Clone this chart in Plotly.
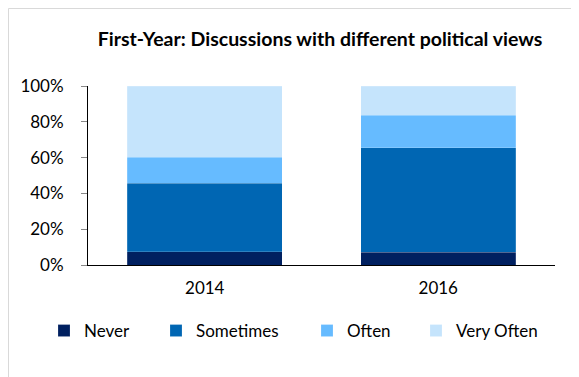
import plotly.graph_objects as go

years = ['2014', '2016']
never = [7.4, 7.1]
sometimes = [38.2, 58.3]
often = [14.7, 18.4]
very_often = [39.7, 16.2]

series = [
    ('Never', never, '#002060'),
    ('Sometimes', sometimes, '#0066B3'),
    ('Often', often, '#66BBFF'),
    ('Very Often', very_often, '#C5E4FC'),
]

# the page body adds an 8px margin, so the figure is laid out in page pixels minus 8
OFF = 8
W, H = 579 - OFF, 377 - OFF
L, T = 88 - OFF, 86 - OFF
R = W - (555 - OFF)
B = H - (265 - OFF)

font = dict(family='Lato, Liberation Sans, Arial', size=17, color='#000000')

fig = go.Figure()
legend_x = [64, 176, 327, 436]
for i, (name, vals, col) in enumerate(series):
    lg = 'legend' if i == 0 else f'legend{i + 1}'
    fig.add_trace(go.Bar(
        x=years, y=vals, name=name,
        marker=dict(color=col, line=dict(color='rgba(255,255,255,0.35)', width=0.5)),
        legend=lg,
    ))

# one legend per entry so the uneven spacing of the original can be kept
layout_legends = {}
for i, lx in enumerate(legend_x):
    key = 'legend' if i == 0 else f'legend{i + 1}'
    layout_legends[key] = dict(
        xref='container', yref='container',
        x=(lx - 20 - OFF) / W, y=1 - (331 - OFF) / H, xanchor='left', yanchor='middle',
        orientation='h', font=font, bgcolor='rgba(0,0,0,0)',
        itemwidth=30, tracegroupgap=0,
    )

fig.update_layout(
    width=W, height=H,
    barmode='stack', bargap=0.336,
    plot_bgcolor='#ffffff', paper_bgcolor='#ffffff',
    margin=dict(l=L, r=R, t=T, b=B),
    font=font,
    title=dict(text='<b>First-Year: Discussions with different political views</b>',
               x=(320 - OFF) / W, xanchor='center', y=1 - (39 - OFF) / H, yanchor='middle',
               font=dict(family='Lato, Liberation Sans, Arial', size=19.5, color='#000000')),
    showlegend=True,
    **layout_legends,
)

fig.update_yaxes(
    range=[0, 100], dtick=20, ticksuffix='%', showgrid=False, zeroline=False,
    showline=True, linecolor='#000000', linewidth=1,
    ticks='outside', ticklen=6, tickcolor='#888888',
    ticklabelstandoff=14, tickfont=font,
)
fig.update_xaxes(
    showline=True, linecolor='#000000', linewidth=1, showgrid=False,
    ticks='', ticklabelstandoff=8, tickfont=font,
)

# light chart-area border (top and left edges visible)
pw, ph = W - L - R, H - T - B
fig.add_shape(type='line', xref='paper', yref='paper',
              x0=(0.5 - L) / pw, x1=(W - L) / pw,
              y0=(H - B - 0.5) / ph, y1=(H - B - 0.5) / ph,
              line=dict(color='#D9D9D9', width=1))
fig.add_shape(type='line', xref='paper', yref='paper',
              x0=(0.5 - L) / pw, x1=(0.5 - L) / pw,
              y0=(H - B - 0.5) / ph, y1=-B / ph,
              line=dict(color='#D9D9D9', width=1))

fig.write_html("out.html")
